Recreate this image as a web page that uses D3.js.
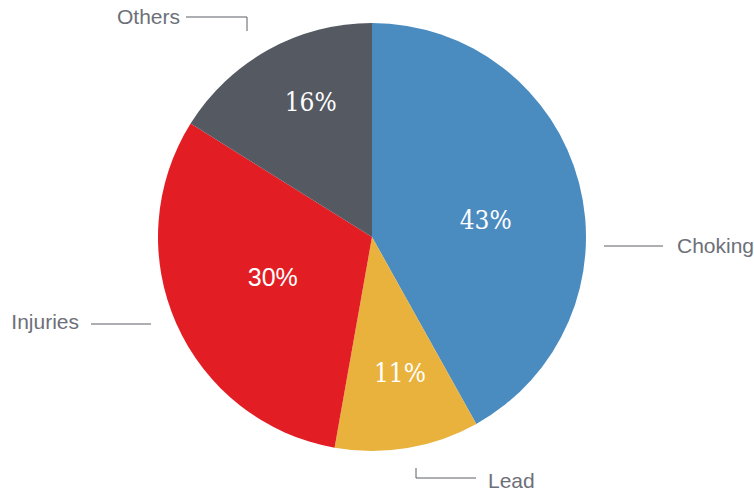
<!DOCTYPE html>
<html>
<head>
<meta charset="utf-8">
<script src="https://cdn.jsdelivr.net/npm/d3@7"></script>
<style>
  body { margin: 0; background: #fff; }
  svg { display: block; }
</style>
</head>
<body>
<svg id="chart"></svg>
<script>
/* data (slice sizes from the geometry, labels as printed) */
var categories = ["Choking", "Lead", "Injuries", "Others"];
var values = [41.9, 10.9, 31.1, 16.1];
var pctLabels = ["43%", "11%", "30%", "16%"];
var colors = ["#4a8bc0", "#e9b23d", "#e31d24", "#545962"];

var width = 754, height = 492;
var cx = 372, cy = 237, radius = 214;

var svg = d3.select("#chart")
    .attr("width", width)
    .attr("height", height);

var g = svg.append("g")
    .attr("transform", "translate(" + cx + "," + cy + ")");

var pie = d3.pie().sort(null).value(function(d) { return d; });
var arc = d3.arc().innerRadius(0).outerRadius(radius);

var arcs = pie(values);

g.selectAll(".slice")
    .data(arcs)
  .enter().append("path")
    .attr("class", "slice")
    .attr("d", arc)
    .attr("fill", function(d, i) { return colors[i]; });

/* percent labels: polar position (radius, angle in degrees from top) */
var serif = "'DejaVu Serif Condensed', 'DejaVu Serif', serif";
var labelStyle = {
  Choking:  {r: 115, a: 81.5, font: serif, size: "26px"},
  Lead:     {r: 139, a: 168.4, font: serif, size: "26px"},
  Injuries: {r: 107, a: 248, font: "'Liberation Sans', Arial, sans-serif", size: "25px"},
  Others:   {r: 148, a: 335.5, font: serif, size: "26px"}
};

g.selectAll(".pct")
    .data(arcs)
  .enter().append("text")
    .attr("class", "pct")
    .attr("x", function(d, i) {
      var s = labelStyle[categories[i]];
      return s.r * Math.sin(s.a * Math.PI / 180);
    })
    .attr("y", function(d, i) {
      var s = labelStyle[categories[i]];
      return -s.r * Math.cos(s.a * Math.PI / 180);
    })
    .attr("dy", "0.35em")
    .attr("text-anchor", "middle")
    .style("font-family", function(d, i) { return labelStyle[categories[i]].font; })
    .style("font-stretch", "condensed")
    .style("font-size", function(d, i) { return labelStyle[categories[i]].size; })
    .style("fill", "#fff")
    .text(function(d, i) { return pctLabels[i]; });

/* callouts: polyline points relative to the centre, then the label */
var callouts = {
  Choking:  {pts: [[232, 9], [291, 9]], tx: 305, ty: 9, anchor: "start"},
  Lead:     {pts: [[44, 231], [44, 241], [104, 241]], tx: 116, ty: 244, anchor: "start"},
  Injuries: {pts: [[-221, 87], [-281, 87]], tx: -293, ty: 85, anchor: "end"},
  Others:   {pts: [[-186, -220], [-125, -220], [-125, -206]], tx: -192, ty: -220, anchor: "end"}
};

var line = d3.line();

categories.forEach(function(c) {
  var co = callouts[c];
  g.append("path")
      .attr("d", line(co.pts))
      .attr("fill", "none")
      .attr("stroke", "#5a5e66")
      .attr("stroke-width", 1);
  g.append("text")
      .attr("x", co.tx)
      .attr("y", co.ty)
      .attr("dy", "0.35em")
      .attr("text-anchor", co.anchor)
      .style("font-family", "'Liberation Sans', Arial, sans-serif")
      .style("font-size", "21px")
      .style("fill", "#6d7079")
      .text(c);
});
</script>
</body>
</html>
